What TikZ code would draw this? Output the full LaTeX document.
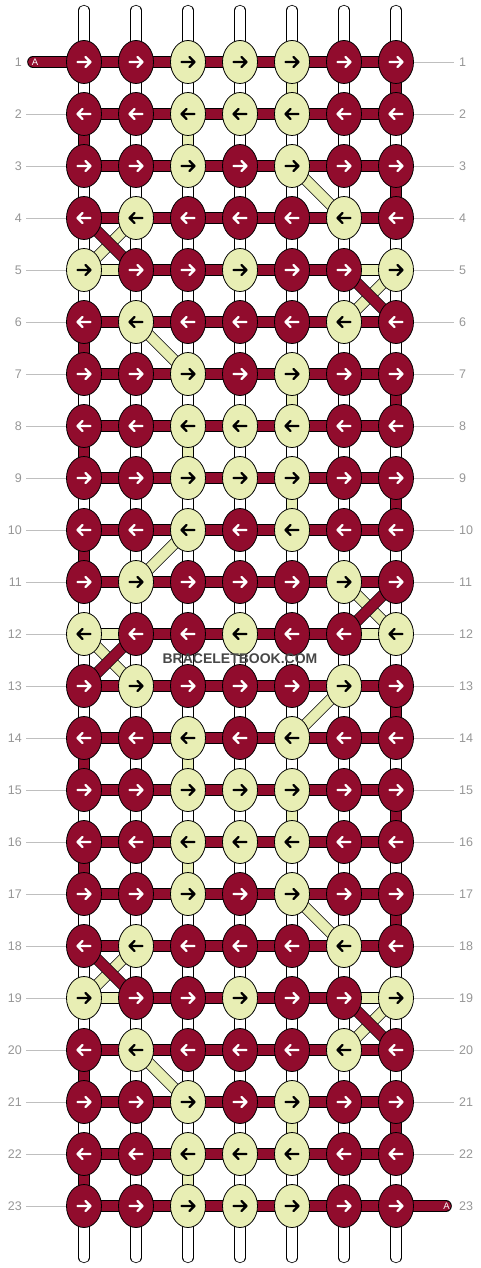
\documentclass[tikz,border=0pt]{standalone}
\usepackage{fontspec}
\setmainfont{Liberation Sans}
\usetikzlibrary{shapes.geometric, backgrounds}

\definecolor{bbred}{RGB}{145,12,45}
\definecolor{bbyellow}{RGB}{232,238,180}
\definecolor{labelgray}{RGB}{150,150,150}

\begin{document}
\begin{tikzpicture} [
  x=1pt,
  y=-1pt,
  knot/.style={draw=black, line width=0.8pt, ellipse, inner sep=0pt, minimum width=35pt, minimum height=43pt},
  knot-r/.style={knot, fill=bbred},
  knot-y/.style={knot, fill=bbyellow},
  arrow-r/.style={draw=white, line width=2.2pt, line cap=round, line join=round},
  arrow-y/.style={arrow-r, draw=black},
  band/.style={draw=black, line width=0.8pt, double distance=10pt},
  strand-r/.style={band, double=bbred},
  strand-y/.style={band, double=bbyellow},
  warp/.style={draw=black, line width=0.8pt, double=white, double distance=9.6pt, line cap=round},
  warpline/.style={draw=black!25, line width=0.5pt, double=white, double distance=1.6pt, shorten <=2pt, shorten >=2pt},
  rowno/.style={text=labelgray, font=\fontsize{12.5}{14}\selectfont, inner sep=2pt},
  rowline/.style={draw=black!25, line width=0.8pt}
  ]
  \useasboundingbox (0,0) rectangle (480,1268);

  \foreach \r/\row in {1/{r,r,y,y,y,r,r}, 2/{r,r,y,y,y,r,r}, 3/{r,r,y,r,y,r,r}, 4/{r,y,r,r,r,y,r},
      5/{y,r,r,y,r,r,y}, 6/{r,y,r,r,r,y,r}, 7/{r,r,y,r,y,r,r}, 8/{r,r,y,y,y,r,r},
      9/{r,r,y,y,y,r,r}, 10/{r,r,y,r,y,r,r}, 11/{r,y,r,r,r,y,r}, 12/{y,r,r,y,r,r,y},
      13/{r,y,r,r,r,y,r}, 14/{r,r,y,r,y,r,r}, 15/{r,r,y,y,y,r,r}, 16/{r,r,y,y,y,r,r},
      17/{r,r,y,r,y,r,r}, 18/{r,y,r,r,r,y,r}, 19/{y,r,r,y,r,r,y}, 20/{r,y,r,r,r,y,r},
      21/{r,r,y,r,y,r,r}, 22/{r,r,y,y,y,r,r}, 23/{r,r,y,y,y,r,r}}
    \foreach \k [count=\c] in \row {
      \node(k\r-\c)[knot-\k, at={(32+52*\c,10+52*\r)}]{};
      \pgfmathtruncatemacro\d{2*mod(\r,2)-1}
      \draw[arrow-\k, shift={(k\r-\c.center)}, xscale=\d] (-6.5,0) -- (6.5,0) (1.5,-5) -- (6.5,0) -- (1.5,5);
    }

  \coordinate(start) at (33,62);
  \coordinate(end) at (446,1206);

  \begin{pgfonlayer}{background}
    \foreach \c in {1,...,7} {
      \coordinate(top\c) at (32+52*\c,10.5);
      \coordinate(bot\c) at (32+52*\c,1257.5);
      \draw[warp] (top\c) -- (bot\c);
      \draw[warpline] (top\c) -- (bot\c);
    }
    \draw[strand-r, line cap=round] (start) -- (k1-1.center);
    \draw[strand-r, line cap=round] (k23-7.center) -- (end);
    \foreach \r in {1,...,23} {
      \foreach \c in {1,...,6} {
        \pgfmathtruncatemacro\nc{\c+1}
        \draw[strand-r] (k\r-\c.center) -- (k\r-\nc.center);
      }
    }
    \foreach \r in {5,12,19} {
      \draw[strand-y] (k\r-1.center) -- (k\r-2.center);
      \draw[strand-y] (k\r-6.center) -- (k\r-7.center);
    }
    \foreach \a/\b in {1-5/2-5, 2-3/3-3, 3-5/4-6, 4-2/5-1, 5-7/6-6, 6-2/7-3, 7-5/8-5,
        8-3/9-3, 9-5/10-5, 10-3/11-2, 11-6/12-7, 12-1/13-2, 13-6/14-5, 14-3/15-3,
        15-5/16-5, 16-3/17-3, 17-5/18-6, 18-2/19-1, 19-7/20-6, 20-2/21-3, 21-5/22-5, 22-3/23-3}
      \draw[strand-y] (k\a.center) -- (k\b.center);
    \foreach \a/\b in {1-7/2-7, 2-1/3-1, 3-7/4-7, 4-1/5-2, 5-6/6-7, 6-1/7-1, 7-7/8-7,
        8-1/9-1, 9-7/10-7, 10-1/11-1, 11-7/12-6, 12-2/13-1, 13-7/14-7, 14-1/15-1,
        15-7/16-7, 16-1/17-1, 17-7/18-7, 18-1/19-2, 19-6/20-7, 20-1/21-1, 21-7/22-7, 22-1/23-1}
      \draw[strand-r] (k\a.center) -- (k\b.center);
  \end{pgfonlayer}

  \node(a-start)[text=white, inner sep=0pt, font=\fontsize{9.5}{10}\selectfont, at={(35,62)}]{A};
  \node(a-end)[text=white, inner sep=0pt, font=\fontsize{9.5}{10}\selectfont, at={(446.5,1206)}]{A};

  \foreach \r in {1,...,23} {
    \node(ln\r)[rowno, anchor=east, at={(24,10+52*\r)}]{\r};
    \node(rn\r)[rowno, anchor=west, at={(457,10+52*\r)}]{\r};
  }
  \foreach \r in {2,...,23}
    \draw[rowline, shorten <=2pt] (ln\r) -- (k\r-1);
  \foreach \r in {1,...,22}
    \draw[rowline, shorten >=3pt] (k\r-7) -- (rn\r);

  \node(watermark)[text=black!72, font=\bfseries\fontsize{14}{16}\selectfont, at={(240,659)}]{BRACELETBOOK.COM};
\end{tikzpicture}
\end{document}
